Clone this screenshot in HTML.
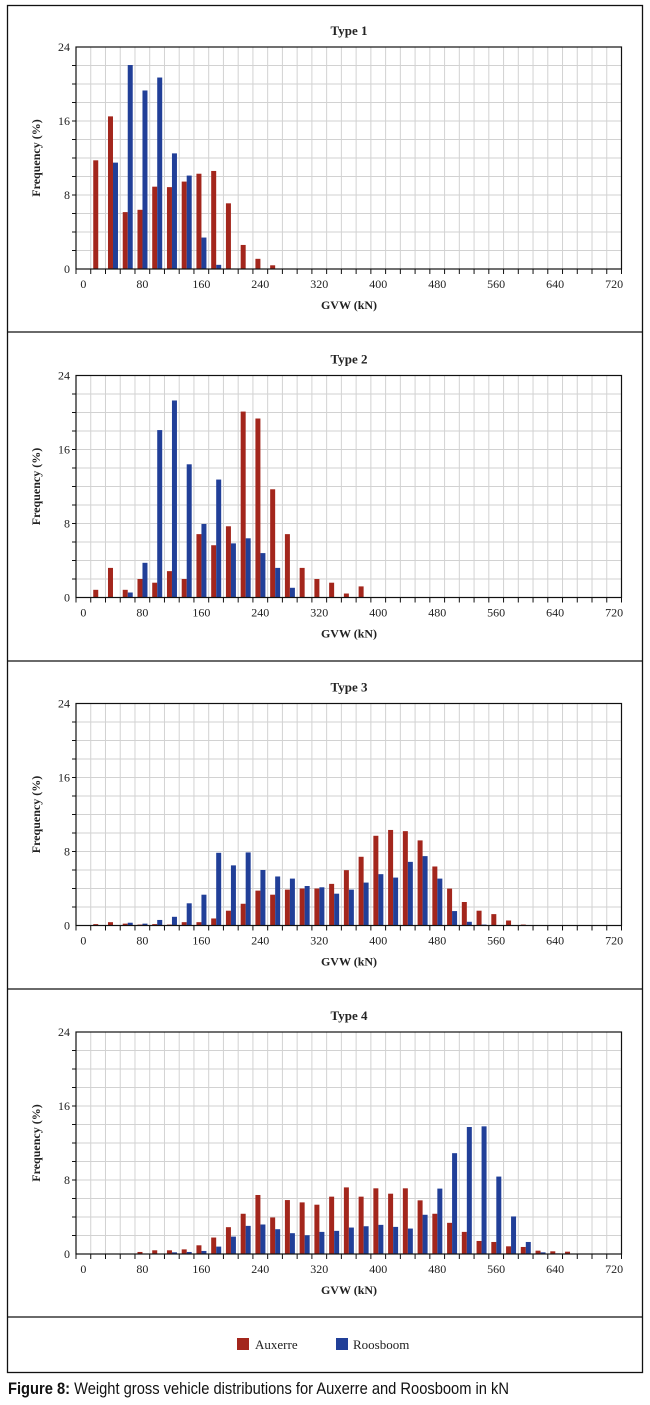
<!DOCTYPE html>
<html><head><meta charset="utf-8">
<style>
html,body{margin:0;padding:0;background:#fff;width:650px;height:1405px;overflow:hidden}
svg{display:block}
.t{font-family:"Liberation Serif",serif;fill:#222}
</style></head>
<body>
<svg id="fig" width="650" height="1405" viewBox="0 0 650 1405" xmlns="http://www.w3.org/2000/svg"></svg>
<script>
// categories: GVW bins 0..720 step 20
const categories = [];
for (let c = 0; c <= 720; c += 20) categories.push(c);
const xTickLabels = [0, 80, 160, 240, 320, 400, 480, 560, 640, 720];
const yTickLabels = [0, 8, 16, 24];
const panelTitles = ["Type 1", "Type 2", "Type 3", "Type 4"];
// values (%) indexed by category position
const auxerre1 = [0, 11.75, 16.5, 6.15, 6.4, 8.9, 8.85, 9.45, 10.3, 10.6, 7.1, 2.6, 1.1, 0.4];
const roosboom1 = [0, 0, 11.5, 22.05, 19.3, 20.7, 12.5, 10.1, 3.4, 0.45];
const auxerre2 = [0, 0.83, 3.2, 0.83, 2.0, 1.6, 2.85, 2.0, 6.85, 5.65, 7.7, 20.1, 19.35, 11.7, 6.85, 3.2, 2.0, 1.6, 0.43, 1.2];
const roosboom2 = [0, 0, 0, 0.54, 3.75, 18.1, 21.3, 14.4, 7.95, 12.75, 5.85, 6.4, 4.8, 3.2, 1.05];
const auxerre3 = [0, 0.15, 0.36, 0.2, 0.1, 0.15, 0.1, 0.36, 0.36, 0.76, 1.6, 2.35, 3.77, 3.33, 3.88, 4.0, 4.0, 4.5, 5.98, 7.43, 9.7, 10.33, 10.2, 9.2, 6.38, 3.99, 2.54, 1.6, 1.23, 0.54, 0.1];
const roosboom3 = [0, 0, 0, 0.3, 0.2, 0.6, 0.94, 2.4, 3.33, 7.86, 6.5, 7.9, 6.0, 5.3, 5.07, 4.27, 4.13, 3.44, 3.88, 4.64, 5.55, 5.18, 6.88, 7.5, 5.07, 1.56, 0.4, 0.1];
const auxerre4 = [0, 0, 0, 0, 0.22, 0.4, 0.4, 0.5, 0.94, 1.78, 2.9, 4.35, 6.38, 3.95, 5.83, 5.58, 5.33, 6.2, 7.2, 6.2, 7.1, 6.52, 7.1, 5.8, 4.35, 3.37, 2.39, 1.41, 1.3, 0.83, 0.76, 0.36, 0.29, 0.25];
const roosboom4 = [0, 0, 0, 0, 0, 0, 0.18, 0.22, 0.33, 0.8, 1.88, 3.04, 3.19, 2.68, 2.25, 2.03, 2.39, 2.5, 2.86, 3.0, 3.15, 2.93, 2.75, 4.24, 7.07, 10.9, 13.73, 13.8, 8.37, 4.06, 1.3, 0.18, 0.07];
const auxerreSets = [auxerre1, auxerre2, auxerre3, auxerre4];
const roosboomSets = [roosboom1, roosboom2, roosboom3, roosboom4];

const NS = "http://www.w3.org/2000/svg";
const svg = document.getElementById("fig");
function mk(tag, attrs, parent) {
  const e = document.createElementNS(NS, tag);
  for (const k in attrs) e.setAttribute(k, attrs[k]);
  (parent || svg).appendChild(e);
  return e;
}
const RED = "#a3261c", BLUE = "#213f98";
const X0 = 76, X1 = 621.5, H = 222, YMAX = 24;
const bw = (X1 - X0) / categories.length;
function xPos(i) { return X0 + i * bw; }
function yPos(v, base) { return base - v / YMAX * H; }

const frame = mk("rect", {x: 7.5, y: 5.5, width: 635, height: 1367, fill: "none", stroke: "#111", "stroke-width": 1.3});


[332, 661, 989, 1317].forEach(y => {
  const l = mk("line", {x1: 7.5, x2: 642.5, y1: y, y2: y, stroke: "#111", "stroke-width": 1.3});
  
  
});

const bases = [269, 597.5, 925.5, 1254];
bases.forEach((base, p) => {
  const g = mk("g", {});
  
  
  const top = base - H;
  for (let i = 1; i < categories.length; i++) {
    const gl = mk("line", {x1: xPos(i), x2: xPos(i), y1: top, y2: base, stroke: "#d2d2d2", "stroke-width": 1}, g);
    
    
  }
  for (let v = 2; v < YMAX; v += 2) {
    const gl = mk("line", {x1: X0, x2: X1, y1: yPos(v, base), y2: yPos(v, base), stroke: "#d2d2d2", "stroke-width": 1}, g);
    
    
    const tk = mk("line", {x1: X0 - 4, x2: X0, y1: yPos(v, base), y2: yPos(v, base), stroke: "#111", "stroke-width": 1}, g);
    
    
  }
  const aux = auxerreSets[p], roo = roosboomSets[p];
  aux.forEach((v, i) => {
    if (v <= 0) return;
    const r = mk("rect", {x: xPos(i) + 2.5, y: yPos(v, base), width: 5, height: base - yPos(v, base), fill: RED}, g);
    
    
  });
  roo.forEach((v, i) => {
    if (v <= 0) return;
    const r = mk("rect", {x: xPos(i) + 7.5, y: yPos(v, base), width: 5, height: base - yPos(v, base), fill: BLUE}, g);
    
    
  });
  const box = mk("rect", {x: X0, y: top, width: X1 - X0, height: H, fill: "none", stroke: "#111", "stroke-width": 1.2}, g);
  
  
  for (let i = 0; i <= categories.length; i++) {
    const tk = mk("line", {x1: xPos(i), x2: xPos(i), y1: base, y2: base + 5, stroke: "#111", "stroke-width": 1}, g);
    
    
  }
  xTickLabels.forEach(lbl => {
    const i = categories.indexOf(lbl);
    const t = mk("text", {x: xPos(i) + bw / 2, y: base + 19, "text-anchor": "middle", "font-size": 12, class: "t"}, g);
    t.textContent = lbl;
    
    
  });
  yTickLabels.forEach(v => {
    const t = mk("text", {x: X0 - 6, y: yPos(v, base) + 4, "text-anchor": "end", "font-size": 12, class: "t"}, g);
    t.textContent = v;
    
    
  });
  const title = mk("text", {x: 349, y: top - 12, "text-anchor": "middle", "font-size": 13, "font-weight": "bold", class: "t"}, g);
  title.textContent = panelTitles[p];
  
  
  const xt = mk("text", {x: 349, y: base + 40, "text-anchor": "middle", "font-size": 12, "font-weight": "bold", class: "t"}, g);
  xt.textContent = "GVW (kN)";
  
  
  const yc = top + H / 2;
  const yt = mk("text", {x: 40, y: yc, "text-anchor": "middle", "font-size": 12, "font-weight": "bold", class: "t", transform: "rotate(-90 40 " + yc + ")"}, g);
  yt.textContent = "Frequency (%)";
  
  
});

const lg = mk("g", {});


const s1 = mk("rect", {x: 237, y: 1338, width: 12, height: 12, fill: RED}, lg);


const l1 = mk("text", {x: 255, y: 1349, "font-size": 13, class: "t"}, lg);
l1.textContent = "Auxerre";


const s2 = mk("rect", {x: 336, y: 1338, width: 12, height: 12, fill: BLUE}, lg);


const l2 = mk("text", {x: 353, y: 1349, "font-size": 13, class: "t"}, lg);
l2.textContent = "Roosboom";



const cap = mk("text", {x: 8, y: 1394, "font-size": 17, "font-family": "'Liberation Sans Narrow','Liberation Sans',sans-serif", fill: "#111", textLength: 501, lengthAdjust: "spacingAndGlyphs"});


const cb = mk("tspan", {"font-weight": "bold"}, cap);
cb.textContent = "Figure 8:";
const cr = mk("tspan", {}, cap);
cr.textContent = " Weight gross vehicle distributions for Auxerre and Roosboom in kN";
</script>
</body></html>
